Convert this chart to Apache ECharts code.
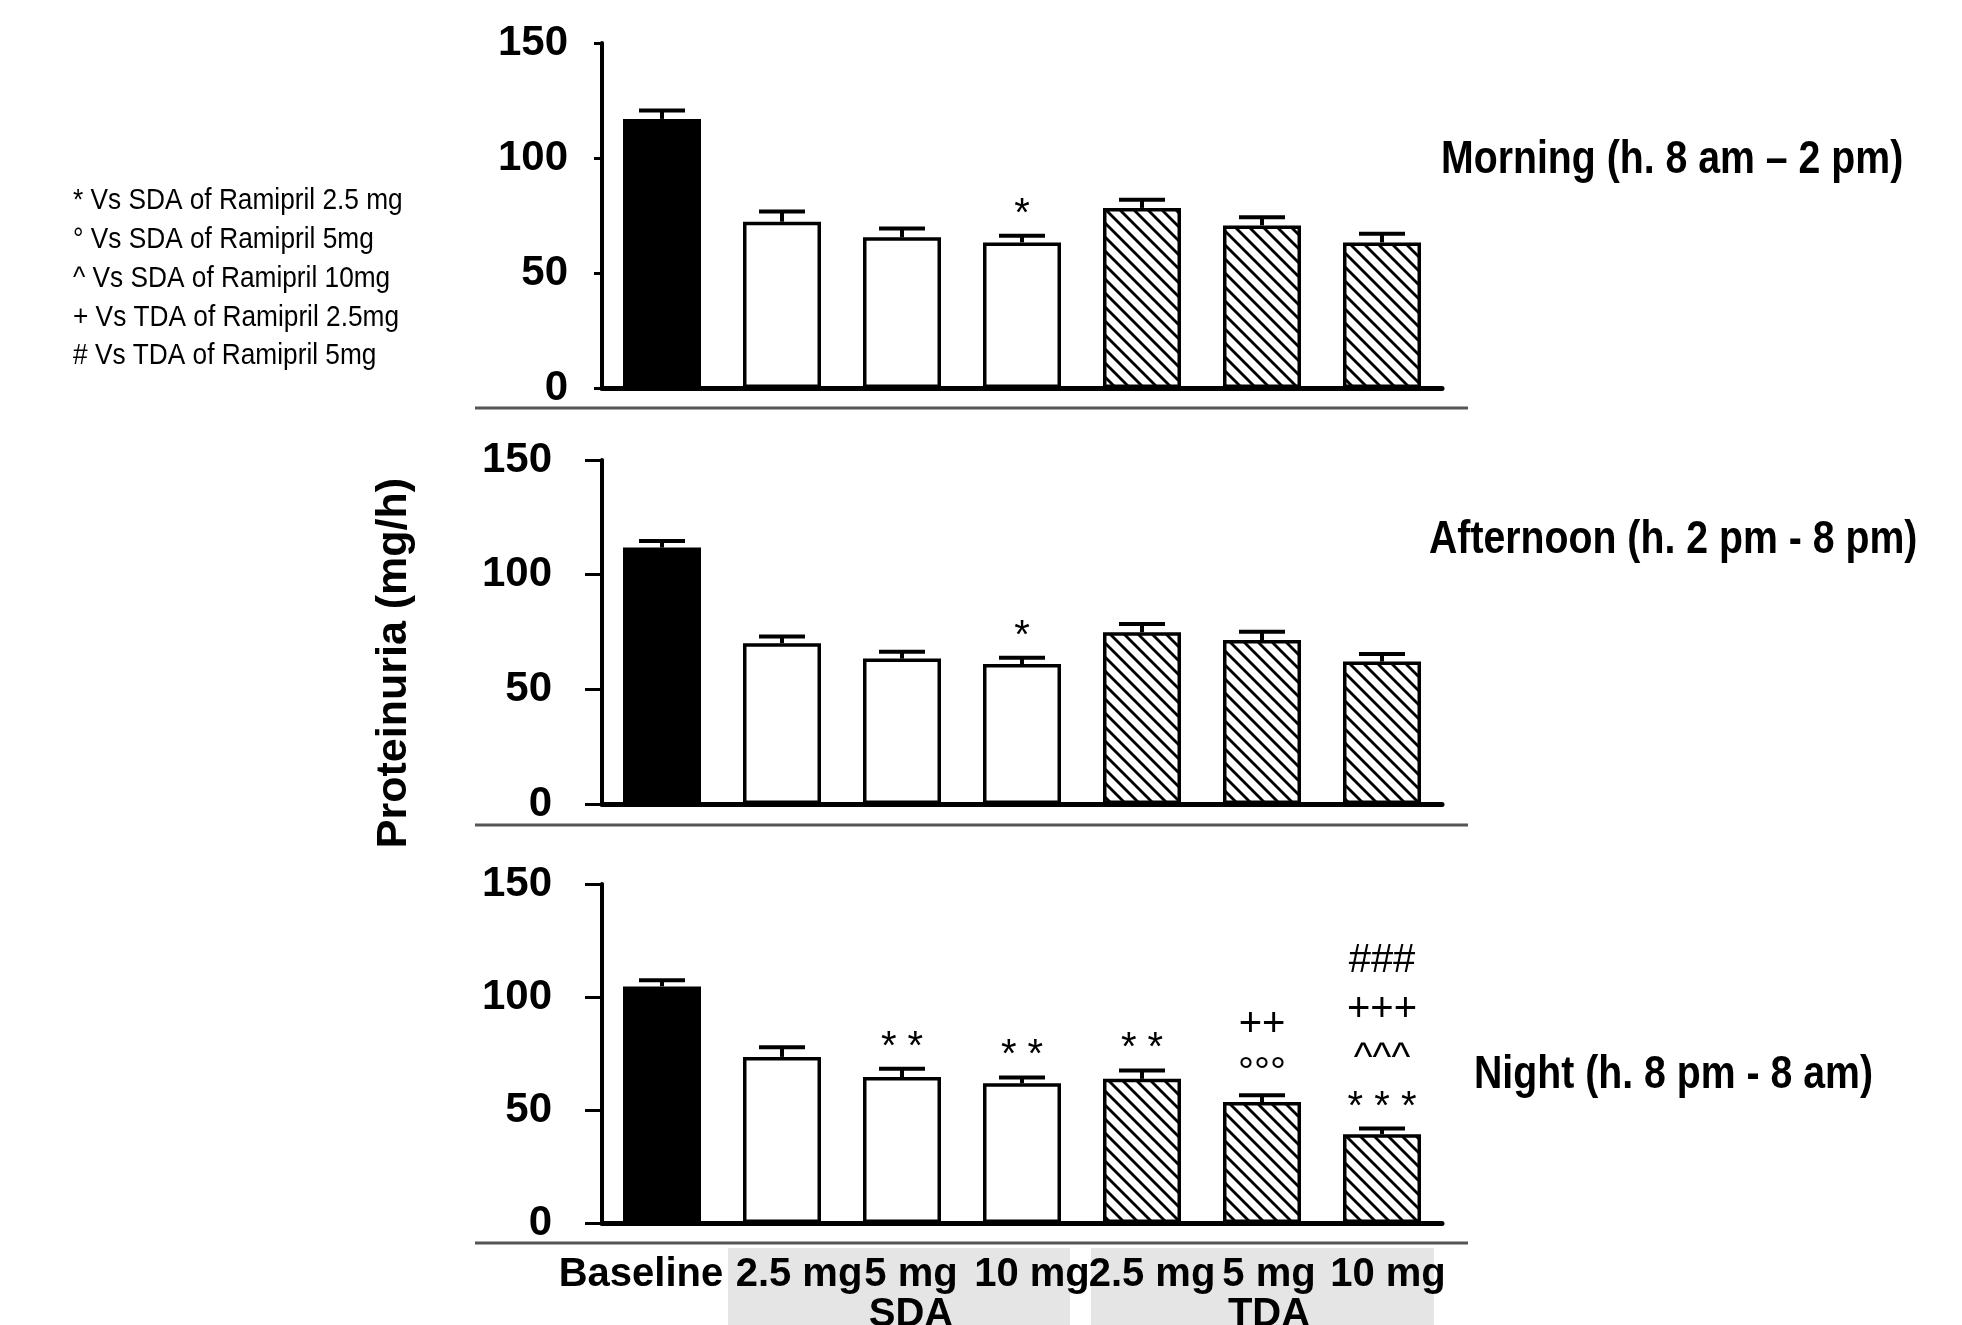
<!DOCTYPE html>
<html><head><meta charset="utf-8">
<script src="https://cdn.jsdelivr.net/npm/echarts@6/dist/echarts.min.js"></script>
<style>html,body{margin:0;padding:0;background:#fff}#c{width:1962px;height:1325px}</style>
</head><body><div id="c"></div>
<script>
// ---------- data ----------
const categories = ['Baseline','SDA 2.5 mg','SDA 5 mg','SDA 10 mg','TDA 2.5 mg','TDA 5 mg','TDA 10 mg'];
const tickLabels = ['Baseline','2.5 mg','5 mg','10 mg','2.5 mg','5 mg','10 mg'];
const groupLabels = ['', '', 'SDA', '', '', 'TDA', ''];
const panelTitles = ['Morning (h. 8 am \u2013 2 pm)','Afternoon (h. 2 pm - 8 pm)','Night (h. 8 pm - 8 am)'];
const yTicks = [0, 50, 100, 150];
const morningMean = [117.0, 72.3, 65.5, 63.3, 78.3, 70.7, 63.3];
const morningErr  = [3.6, 4.4, 3.8, 2.9, 3.6, 3.5, 3.8];
const afternoonMean = [111.8, 70.1, 63.4, 61.0, 74.9, 71.5, 62.1];
const afternoonErr  = [2.9, 2.9, 3.0, 2.8, 3.6, 3.6, 3.3];
const nightMean = [104.7, 73.5, 64.6, 61.8, 63.8, 53.5, 39.3];
const nightErr  = [2.7, 4.3, 3.6, 2.6, 3.7, 3.0, 2.5];
const morningMarks   = [[], [], [], ['*'], [], [], []];
const afternoonMarks = [[], [], [], ['*'], [], [], []];
const nightMarks     = [[], [], ['* *'], ['* *'], ['* *'], ['\u00b0\u00b0\u00b0', '++'], ['* * *', '^^^', '+++', '###']];
const legendLines = ['* Vs SDA of Ramipril 2.5 mg', '\u00b0 Vs SDA of Ramipril 5mg', '^ Vs SDA of Ramipril 10mg', '+ Vs TDA of Ramipril 2.5mg', '# Vs TDA of Ramipril 5mg'];

// ---------- styles ----------
const FONT = '"Liberation Sans", Arial, sans-serif';
const means = [morningMean, afternoonMean, nightMean];
const errs = [morningErr, afternoonErr, nightErr];
const marks = [morningMarks, afternoonMarks, nightMarks];
const grids = [
  {left: 602, top: 43, width: 840, height: 345, outerBoundsMode: 'none', containLabel: false},
  {left: 602, top: 460, width: 840, height: 344, outerBoundsMode: 'none', containLabel: false},
  {left: 602, top: 884, width: 840, height: 339, outerBoundsMode: 'none', containLabel: false}
];
const tickLen = [8, 17, 17];
const labelMargin = [34, 50, 50];
const labelShift = [-21, 17, 9, 10, 10, 7, 6];

const tile = document.createElement('canvas');
tile.width = tile.height = 14;
(function(){
  const c = tile.getContext('2d');
  c.fillStyle = '#fff'; c.fillRect(0,0,14,14);
  c.strokeStyle = '#000'; c.lineWidth = 2.8;
  for (let k = -1; k <= 1; k++) { c.beginPath(); c.moveTo(k*14 - 2, -2); c.lineTo(k*14 + 16, 16); c.stroke(); }
})();
const hatch = {image: tile, repeat: 'repeat'};
function barColor(i){ return i === 0 ? '#000' : (i <= 3 ? '#fff' : hatch); }

const rich = {};
labelShift.forEach((s, i) => {
  rich['s' + i] = {fontSize: 40, fontWeight: 'bold', fontFamily: FONT, color: '#000', lineHeight: 40,
    padding: s >= 0 ? [0, 0, 0, 2*s] : [0, -2*s, 0, 0]};
});

const xAxis = [], yAxis = [], series = [];
for (let p = 0; p < 3; p++) {
  xAxis.push({
    gridIndex: p, type: 'category', data: categories,
    axisLine: {lineStyle: {color: '#000', width: 5}},
    axisTick: {show: false},
    axisLabel: p === 2 ? {
      show: true, interval: 0, margin: 32, color: '#000', fontSize: 40, fontWeight: 'bold',
      fontFamily: FONT, lineHeight: 40, rich: rich,
      formatter: (v, i) => '{s' + i + '|' + tickLabels[i] + '}' + (groupLabels[i] ? '\n{s' + i + '|' + groupLabels[i] + '}' : '')
    } : {show: false}
  });
  yAxis.push({
    gridIndex: p, type: 'value', min: yTicks[0], max: yTicks[yTicks.length-1], interval: yTicks[1]-yTicks[0],
    axisLine: {show: true, lineStyle: {color: '#000', width: 4}},
    axisTick: {show: true, length: tickLen[p], lineStyle: {color: '#000', width: 3}},
    splitLine: {show: false},
    axisLabel: {color: '#000', fontSize: 42, fontWeight: 'bold', fontFamily: FONT, margin: labelMargin[p]}
  });
  series.push({
    type: 'bar', xAxisIndex: p, yAxisIndex: p, barWidth: 78,
    data: means[p].map((v, i) => ({value: v, itemStyle: {color: barColor(i), borderColor: '#000', borderWidth: 3.5}})),
    z: 2
  });
  const mk = marks[p];
  series.push({
    type: 'custom', xAxisIndex: p, yAxisIndex: p, z: 3,
    data: means[p].map((v, i) => [i, v, errs[p][i]]),
    encode: {x: 0, y: 1},
    renderItem: function(params, api){
      const idx = api.value(0), m = api.value(1), e = api.value(2);
      const a = api.coord([idx, m]), b = api.coord([idx, m + e]);
      const children = [
        {type: 'line', shape: {x1: a[0], y1: a[1], x2: b[0], y2: b[1]}, style: {stroke: '#000', lineWidth: 4}},
        {type: 'line', shape: {x1: b[0]-23, y1: b[1], x2: b[0]+23, y2: b[1]}, style: {stroke: '#000', lineWidth: 4}}
      ];
      (mk[params.dataIndex] || []).forEach((t, j) => {
        children.push({type: 'text', style: {text: t, x: b[0], y: b[1] - 21 - j*49, align: 'center', verticalAlign: 'middle',
          fontSize: 40, fontFamily: FONT, fill: '#000'}});
      });
      return {type: 'group', children: children};
    }
  });
}

const elements = [];
elements.push({type: 'rect', z: -10, shape: {x: 728, y: 1248, width: 342, height: 80}, style: {fill: '#e5e5e5'}});
elements.push({type: 'rect', z: -10, shape: {x: 1091, y: 1248, width: 343, height: 80}, style: {fill: '#e5e5e5'}});
[408, 825, 1243].forEach(y => elements.push({type: 'line', shape: {x1: 475, y1: y, x2: 1468, y2: y}, style: {stroke: '#555', lineWidth: 3}}));
const titlePos = [[1441, 160], [1429, 540], [1474, 1075]];
panelTitles.forEach((t, i) => elements.push({type: 'text', x: titlePos[i][0], y: titlePos[i][1], scaleX: 0.835,
  style: {text: t, x: 0, y: 0, align: 'left', verticalAlign: 'middle', fontSize: 47, fontWeight: 'bold', fontFamily: FONT, fill: '#000'}}));
legendLines.forEach((t, i) => elements.push({type: 'text', x: 73, y: 201 + i*38.8, scaleX: 0.875,
  style: {text: t, x: 0, y: 0, align: 'left', verticalAlign: 'middle', fontSize: 30, fontFamily: FONT, fill: '#000'}}));
elements.push({type: 'text', x: 394, y: 663, rotation: Math.PI/2, style: {text: 'Proteinuria (mg/h)', x: 0, y: 0, align: 'center', verticalAlign: 'middle',
  fontSize: 43, fontWeight: 'bold', fontFamily: FONT, fill: '#000'}});

const chart = echarts.init(document.getElementById('c'));
chart.setOption({
  animation: false, backgroundColor: '#fff',
  grid: grids, xAxis: xAxis, yAxis: yAxis, series: series,
  graphic: {elements: elements}
});
</script></body></html>
